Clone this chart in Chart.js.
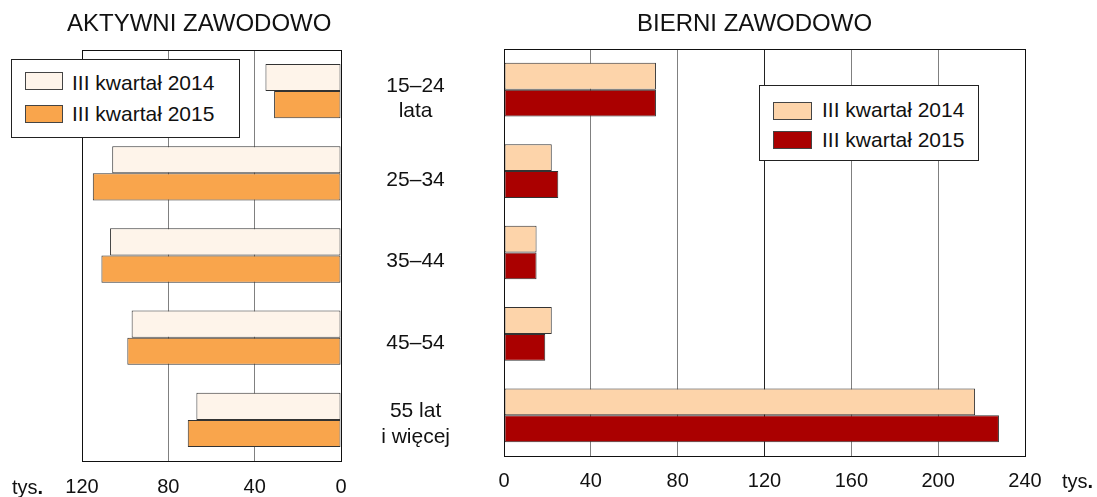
<!DOCTYPE html>
<html><head><meta charset="utf-8">
<script src="https://cdn.jsdelivr.net/npm/chart.js@4"></script>
<style>
html,body{margin:0;padding:0;background:#fff;}
body{width:1097px;height:497px;position:relative;overflow:hidden;font-family:"Liberation Sans",Arial,sans-serif;color:#111;}
canvas{position:absolute;top:0;}
#cl{left:0;}
#cr{left:345px;}
.txt{position:absolute;white-space:nowrap;z-index:3;}
.title{font-size:24px;line-height:24px;}
.unit{font-size:20px;line-height:20px;}
.leg{position:absolute;background:#fff;border:1px solid #222;box-sizing:border-box;z-index:2;}
.sw{position:absolute;border:1px solid #444;box-sizing:border-box;z-index:3;}
.lt{position:absolute;font-size:21px;line-height:21px;white-space:nowrap;z-index:3;}
</style>
</head><body>
<div class="txt title" style="left:67px;top:11px;">AKTYWNI ZAWODOWO</div>
<div class="txt title" style="left:637px;top:11px;">BIERNI ZAWODOWO</div>
<div class="txt unit" style="left:12px;top:477px;">tys<b>.</b></div>
<div class="txt unit" style="left:1062px;top:471px;">tys<b>.</b></div>
<canvas id="cl" width="360" height="497"></canvas>
<canvas id="cr" width="752" height="497"></canvas>
<div id="legends"></div>
<script>
const categories = [['15–24','lata'], '25–34', '35–44', '45–54', ['55 lat','i więcej']];
const seriesNames = ['III kwartał 2014', 'III kwartał 2015'];
const active2014 = [35, 106, 107, 97, 67];
const active2015 = [31, 115, 111, 99, 71];
const passive2014 = [70, 22, 15, 22, 217];
const passive2015 = [70, 25, 15, 19, 228];
const activeTicks = [0, 40, 80, 120];
const passiveTicks = [0, 40, 80, 120, 160, 200, 240];

const activeColors = ['#FEF4EA', '#F9A54C'];
const passiveColors = ['#FDD4AA', '#AA0000'];

const FONT = '"Liberation Sans", Arial, sans-serif';

const frame = {
  id: 'frame',
  afterDatasetsDraw(chart) {
    const {ctx, chartArea: a} = chart;
    ctx.save();
    ctx.strokeStyle = '#111';
    ctx.lineWidth = 1;
    ctx.strokeRect(Math.round(a.left) + 0.5, Math.round(a.top) + 0.5,
      Math.round(a.right) - Math.round(a.left), Math.round(a.bottom) - Math.round(a.top));
    ctx.restore();
  }
};

function barDs(label, data, color) {
  return {
    label, data,
    backgroundColor: color,
    borderColor: '#333',
    borderWidth: 1,
    borderSkipped: false,
    categoryPercentage: 0.66,
    barPercentage: 1.0
  };
}

function gridColor(ctx) {
  const v = ctx.tick ? ctx.tick.value : null;
  return v === 120 ? '#222' : '#808080';
}

new Chart(document.getElementById('cl'), {
  type: 'bar',
  data: {
    labels: categories,
    datasets: [barDs(seriesNames[0], active2014, activeColors[0]), barDs(seriesNames[1], active2015, activeColors[1])]
  },
  options: {
    indexAxis: 'y',
    responsive: false,
    animation: false,
    devicePixelRatio: 1,
    layout: {padding: {left: 82, right: 19, top: 50, bottom: 0}},
    plugins: {legend: {display: false}, tooltip: {enabled: false}},
    scales: {
      x: {
        reverse: true,
        min: activeTicks[0], max: activeTicks[activeTicks.length - 1],
        afterBuildTicks: s => { s.ticks = activeTicks.map(v => ({value: v})); },
        afterFit: s => { s.height = 36; },
        grid: {color: gridColor, drawTicks: false, lineWidth: 1},
        border: {display: false},
        ticks: {padding: 14, color: '#111', font: {family: FONT, size: 20}}
      },
      y: {display: false}
    }
  },
  plugins: [frame]
});

new Chart(document.getElementById('cr'), {
  type: 'bar',
  data: {
    labels: categories,
    datasets: [barDs(seriesNames[0], passive2014, passiveColors[0]), barDs(seriesNames[1], passive2015, passiveColors[1])]
  },
  options: {
    indexAxis: 'y',
    responsive: false,
    animation: false,
    devicePixelRatio: 1,
    layout: {padding: {left: 0, right: 72, top: 49, bottom: 0}},
    plugins: {legend: {display: false}, tooltip: {enabled: false}},
    scales: {
      x: {
        min: passiveTicks[0], max: passiveTicks[passiveTicks.length - 1],
        afterBuildTicks: s => { s.ticks = passiveTicks.map(v => ({value: v})); },
        afterFit: s => { s.height = 41; s.paddingLeft = 0; s.paddingRight = 0; },
        grid: {color: gridColor, drawTicks: false, lineWidth: 1},
        border: {display: false},
        ticks: {padding: 13, color: '#111', font: {family: FONT, size: 20}}
      },
      y: {
        afterFit: s => { s.width = 159; s.paddingTop = 0; s.paddingBottom = 0; },
        grid: {display: false, drawTicks: false},
        border: {display: false},
        ticks: {crossAlign: 'center', padding: 54, labelOffset: 9, color: '#111',
          font: {family: FONT, size: 21, lineHeight: 1.2}}
      }
    }
  },
  plugins: [frame]
});

// HTML legends
function legend(box, sw, txt, colors) {
  let h = `<div class="leg" style="left:${box[0]}px;top:${box[1]}px;width:${box[2]}px;height:${box[3]}px;"></div>`;
  seriesNames.forEach((n, i) => {
    h += `<div class="sw" style="left:${sw[0]}px;top:${sw[1] + i * sw[4]}px;width:${sw[2]}px;height:${sw[3]}px;background:${colors[i]};"></div>`;
    h += `<div class="lt" style="left:${txt[0]}px;top:${txt[1] + i * txt[2]}px;">${n}</div>`;
  });
  return h;
}
document.getElementById('legends').innerHTML =
  legend([11, 59, 229, 79], [25, 72, 38, 18, 33], [72, 72, 31], activeColors) +
  legend([759, 85, 220, 76], [773, 102, 39, 18, 29], [822, 99, 30], passiveColors);
</script>
</body></html>
